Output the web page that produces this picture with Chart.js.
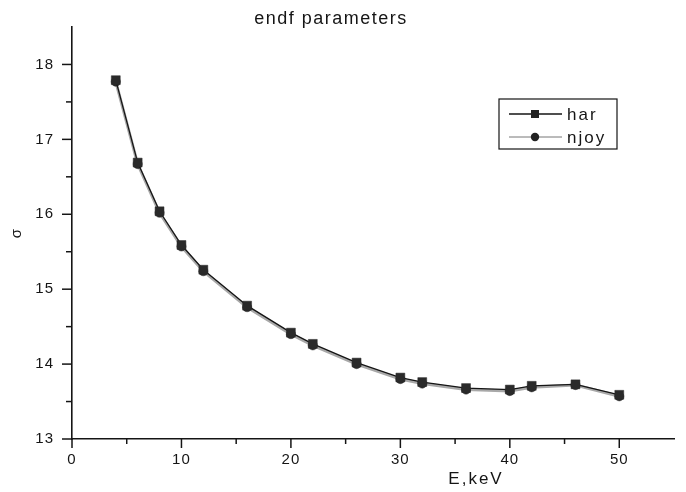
<!DOCTYPE html>
<html>
<head>
<meta charset="utf-8">
<script src="https://cdn.jsdelivr.net/npm/chart.js@4"></script>
<style>
  body { margin: 0; background: #fff; }
</style>
</head>
<body>
<canvas id="chart" width="686" height="492"></canvas>
<script>
const energies = [4, 6, 8, 10, 12, 16, 20, 22, 26, 30, 32, 36, 40, 42, 46, 50];
const har = [17.79, 16.69, 16.04, 15.59, 15.26, 14.78, 14.42, 14.27, 14.02, 13.82, 13.76, 13.68, 13.66, 13.71, 13.73, 13.59];
const njoy = [17.77, 16.67, 16.02, 15.57, 15.24, 14.76, 14.40, 14.25, 14.00, 13.80, 13.74, 13.66, 13.64, 13.69, 13.72, 13.57];
const seriesNames = ['har', 'njoy'];
const chartTitle = 'endf parameters';
const xTitle = 'E,keV';
const yTitle = 'σ';

const ink = '#151515';
const font = '"Liberation Sans", Arial, sans-serif';

function points(xs, ys) {
    return xs.map((x, i) => ({ x: x, y: ys[i] }));
}

// tick marks, title, x title and the boxed legend, drawn Origin-style
const decorations = {
    id: 'decorations',
    beforeDraw(chart) {
        chart.ctx.letterSpacing = '1px';
    },
    afterDraw(chart) {
        const ctx = chart.ctx;
        const xs = chart.scales.x;
        const ys = chart.scales.y;
        const area = chart.chartArea;
        ctx.save();
        ctx.strokeStyle = ink;
        ctx.lineWidth = 1.5;

        // ticks outside the axes
        xs.ticks.forEach(t => {
            if (t.value >= xs.max) return;
            const px = xs.getPixelForValue(t.value);
            const len = t.value % 10 === 0 ? 9 : 5;
            ctx.beginPath();
            ctx.moveTo(px, area.bottom);
            ctx.lineTo(px, area.bottom + len);
            ctx.stroke();
        });
        ys.ticks.forEach(t => {
            if (t.value >= ys.max) return;
            const py = ys.getPixelForValue(t.value);
            const len = Number.isInteger(t.value) ? 10 : 6;
            ctx.beginPath();
            ctx.moveTo(area.left, py);
            ctx.lineTo(area.left - len, py);
            ctx.stroke();
        });

        ctx.fillStyle = ink;
        ctx.textBaseline = 'middle';
        ctx.textAlign = 'center';

        ctx.font = '18px ' + font;
        ctx.letterSpacing = '1.5px';
        ctx.fillText(chartTitle, 331, 19);

        ctx.font = '17px ' + font;
        ctx.letterSpacing = '2px';
        ctx.fillText(xTitle, 476, 479);

        // legend box
        const bx = 499, by = 99, bw = 118, bh = 50;
        ctx.lineWidth = 1.2;
        ctx.strokeRect(bx, by, bw, bh);
        const rows = [
            { name: seriesNames[0], y: 114, color: ink, width: 1.3, style: 'rect' },
            { name: seriesNames[1], y: 137, color: '#777', width: 1, style: 'circle' }
        ];
        rows.forEach(r => {
            ctx.strokeStyle = r.color;
            ctx.lineWidth = r.width;
            ctx.beginPath();
            ctx.moveTo(509, r.y);
            ctx.lineTo(562, r.y);
            ctx.stroke();
            ctx.fillStyle = '#222';
            if (r.style === 'rect') {
                ctx.fillRect(531, r.y - 4, 8, 8);
            } else {
                ctx.beginPath();
                ctx.arc(535, r.y, 4.2, 0, Math.PI * 2);
                ctx.fill();
            }
            ctx.fillStyle = ink;
            ctx.textAlign = 'left';
            ctx.fillText(r.name, 567, r.y + 1);
        });
        ctx.restore();
    }
};

new Chart(document.getElementById('chart'), {
    type: 'line',
    data: {
        datasets: [
            {
                label: seriesNames[0],
                data: points(energies, har),
                borderColor: ink,
                borderWidth: 1.3,
                pointStyle: 'rect',
                pointRadius: 6.3,
                pointBackgroundColor: '#2a2a2a',
                pointBorderColor: '#2a2a2a',
                pointBorderWidth: 0.5,
                tension: 0
            },
            {
                label: seriesNames[1],
                data: points(energies, njoy),
                borderColor: '#a8a8a8',
                borderWidth: 3,
                pointStyle: 'circle',
                pointRadius: 4.6,
                pointBackgroundColor: '#2a2a2a',
                pointBorderColor: '#2a2a2a',
                pointBorderWidth: 0.5,
                tension: 0
            }
        ]
    },
    options: {
        responsive: false,
        animation: false,
        layout: {
            padding: { left: 8, top: 27, right: 5, bottom: 0 }
        },
        plugins: {
            legend: { display: false },
            title: { display: false },
            tooltip: { enabled: false }
        },
        scales: {
            x: {
                type: 'linear',
                min: 0,
                max: 55,
                afterFit: scale => { scale.height = 53; },
                grid: { display: false, drawTicks: false },
                border: { display: true, color: ink, width: 1.6 },
                ticks: {
                    stepSize: 5,
                    autoSkip: false,
                    maxRotation: 0,
                    padding: 12,
                    color: ink,
                    font: { family: font, size: 15 },
                    callback: v => (v % 10 === 0 && v <= 50 ? String(v) : '')
                }
            },
            y: {
                type: 'linear',
                min: 13,
                max: 18.5,
                afterFit: scale => { scale.width = 64; },
                grid: { display: false, drawTicks: false },
                border: { display: true, color: ink, width: 1.6 },
                title: {
                    display: true,
                    text: yTitle,
                    color: ink,
                    padding: 0,
                    font: { family: font, size: 15 }
                },
                ticks: {
                    stepSize: 0.5,
                    autoSkip: false,
                    padding: 18,
                    color: ink,
                    font: { family: font, size: 15 },
                    callback: v => (Number.isInteger(v) && v < 18.5 ? String(v) : '')
                }
            }
        }
    },
    plugins: [decorations]
});
</script>
</body>
</html>
